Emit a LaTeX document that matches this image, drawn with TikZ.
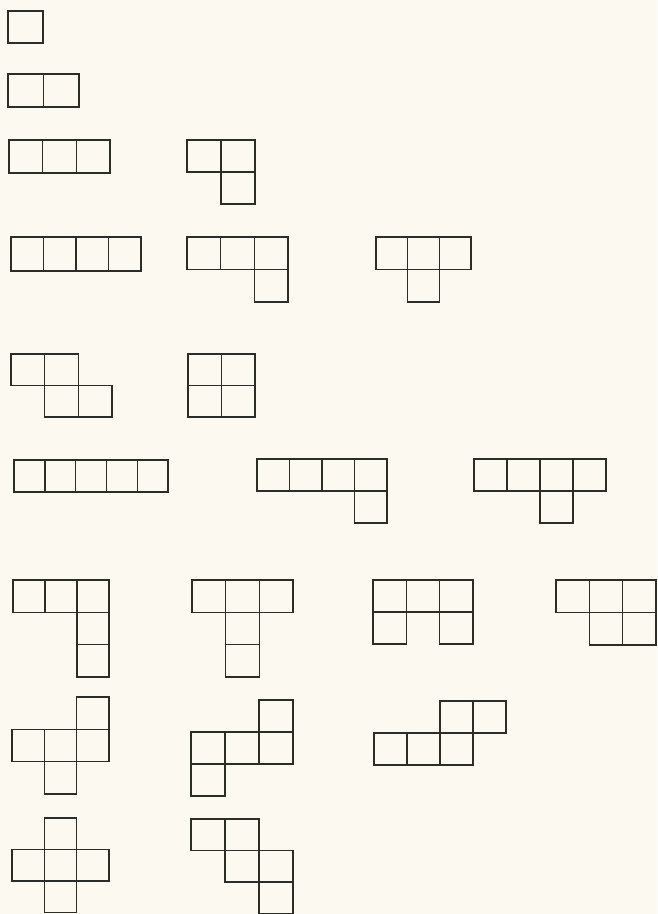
\documentclass[tikz,border=0pt]{standalone}
\definecolor{paper}{RGB}{252,250,240}
\definecolor{ink}{RGB}{45,45,40}
\tikzset{cellbox/.style={draw=ink,line width=1.4pt,line join=miter}}
% \polyo{x0}{y0}{w}{h}{c/r list}
\newcommand\polyo[5]{%
  \foreach \c/\r in {#5}{%
    \draw[cellbox] ({#1+\c*#3},{#2+\r*#4}) rectangle ++(#3,#4);}%
}
\begin{document}
\begin{tikzpicture}[x=1pt,y=-1pt]
\fill[paper] (0,0) rectangle (657,914);
\useasboundingbox (0,0) rectangle (657,914);
\clip (0,0) rectangle (657,914);
% row 1-3
\polyo{8}{11}{35}{32}{0/0}
\polyo{8}{74}{35.5}{33}{0/0,1/0}
\polyo{9}{140}{33.7}{33}{0/0,1/0,2/0}
\polyo{187}{140}{34}{32}{0/0,1/0,1/1}
% row 4
\polyo{11}{237}{32.5}{34}{0/0,1/0,2/0,3/0}
\polyo{187}{237}{33.7}{32.5}{0/0,1/0,2/0,2/1}
\polyo{376}{237}{31.7}{32.5}{0/0,1/0,2/0,1/1}
% row 5
\polyo{11}{354}{33.7}{31.5}{0/0,1/0,1/1,2/1}
\polyo{188}{354}{33.5}{31.5}{0/0,1/0,0/1,1/1}
% row 6
\polyo{14}{460}{30.8}{32}{0/0,1/0,2/0,3/0,4/0}
\polyo{257}{459}{32.5}{32}{0/0,1/0,2/0,3/0,3/1}
\polyo{474}{459}{33}{32}{0/0,1/0,2/0,3/0,2/1}
% row 7
\polyo{13}{580}{32}{32.3}{0/0,1/0,2/0,2/1,2/2}
\polyo{192}{580}{33.7}{32.3}{0/0,1/0,2/0,1/1,1/2}
\polyo{373}{580}{33.3}{32}{0/0,1/0,2/0,0/1,2/1}
\polyo{556}{580}{33.3}{32.5}{0/0,1/0,2/0,1/1,2/1}
% row 8
\polyo{12}{697}{32.3}{32.3}{2/0,0/1,1/1,2/1,1/2}
\polyo{191}{700}{34}{32}{2/0,0/1,1/1,2/1,0/2}
\polyo{374}{701}{33}{32}{2/0,3/0,0/1,1/1,2/1}
% row 9
\polyo{12}{818}{32.3}{31.5}{1/0,0/1,1/1,2/1,1/2}
\polyo{191}{819}{34}{31.5}{0/0,1/0,1/1,2/1,2/2}
\end{tikzpicture}
\end{document}
